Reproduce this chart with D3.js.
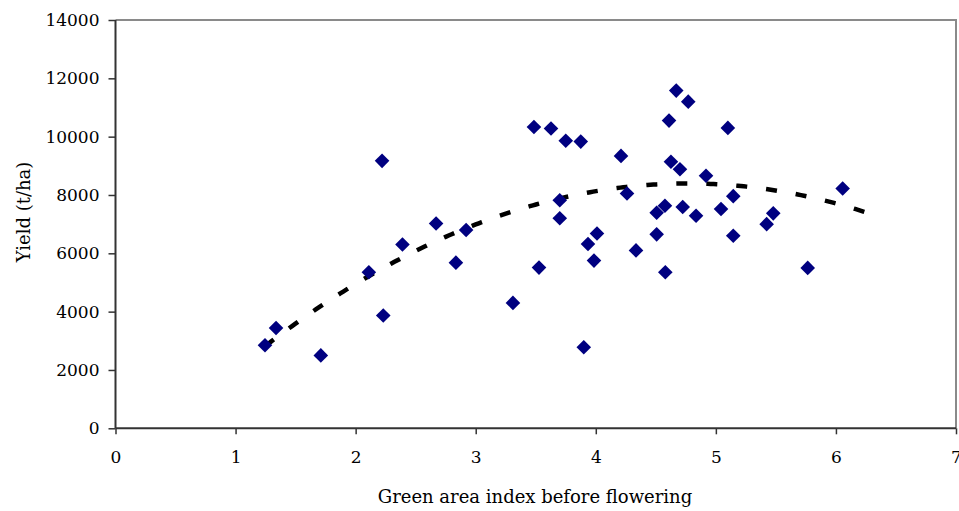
<!DOCTYPE html>
<html>
<head>
<meta charset="utf-8">
<script src="https://cdn.jsdelivr.net/npm/d3@7"></script>
<style>
  html, body { margin: 0; padding: 0; background: #fff; }
  svg { display: block; }
  text { font-family: "DejaVu Serif", serif; fill: #000; }
</style>
</head>
<body>
<svg id="chart" width="959" height="511"></svg>
<script>
// Green area index before flowering (x) vs grain yield (y)
const greenAreaIndex = [
  1.245, 1.337, 1.71, 2.11, 2.22, 2.23, 2.39, 2.67, 2.835, 2.92,
  3.31, 3.485, 3.527, 3.627, 3.70, 3.70, 3.75, 3.875, 3.90, 3.935,
  3.985, 4.01, 4.21, 4.26, 4.335, 4.507, 4.576, 4.507, 4.579, 4.61,
  4.626, 4.67, 4.701, 4.724, 4.77, 4.835, 4.918, 5.043, 5.10, 5.145,
  5.145, 5.423, 5.478, 5.765, 6.056
];
const yieldValues = [
  2850, 3440, 2500, 5350, 9170, 3870, 6300, 7020, 5680, 6800,
  4300, 10330, 5510, 10280, 7820, 7200, 9860, 9830, 2780, 6320,
  5750, 6680, 9340, 8050, 6100, 7390, 7630, 6650, 5350, 10550,
  9140, 11580, 8880, 7590, 11200, 7290, 8660, 7520, 10300, 7960,
  6600, 7000, 7370, 5500, 8220
];
const xTicks = [0, 1, 2, 3, 4, 5, 6, 7];
const yTicks = [0, 2000, 4000, 6000, 8000, 10000, 12000, 14000];
// Polynomial (order 2) trend: y = a x^2 + b x + c, forecast forward to 6.26
const trendCoefficients = { a: -450, b: 4290, c: -1830 };
const trendForwardTo = 6.26;

const xLabel = "Green area index before flowering";
const yLabel = "Yield (t/ha)";

const svg = d3.select("#chart");
const margin = { left: 115.5, right: 3, top: 20, bottom: 82.7 };
const W = 959, H = 511;

const x = d3.scaleLinear().domain([0, 7]).range([margin.left, W - margin.right]);
const y = d3.scaleLinear().domain([0, 14000]).range([H - margin.bottom, margin.top]);

const points = greenAreaIndex.map((v, i) => ({ x: v, y: yieldValues[i] }));
const trend = v => trendCoefficients.a * v * v + trendCoefficients.b * v + trendCoefficients.c;

// Plot frame: grey top and right borders
const x0 = x(0), x1 = x(7), y0 = y(0), y1 = y(14000);
svg.append("path")
  .attr("d", `M${x0},${y1}H${x1}V${y0}`)
  .attr("fill", "none")
  .attr("stroke", "#8a8a8a")
  .attr("stroke-width", 2);

// Trend line
const tMin = d3.min(greenAreaIndex);
const trendPts = d3.range(0, 201).map(i => {
  const v = tMin + (trendForwardTo - tMin) * i / 200;
  return [v, trend(v)];
});
svg.append("path")
  .datum(trendPts)
  .attr("d", d3.line().x(d => x(d[0])).y(d => y(d[1])))
  .attr("fill", "none")
  .attr("stroke", "#000")
  .attr("stroke-width", 4.5)
  .attr("stroke-dasharray", "11,19");

// Axes
const xAxis = svg.append("g")
  .attr("transform", `translate(0,${y0})`)
  .call(d3.axisBottom(x).tickValues(xTicks).tickFormat(d3.format("d")).tickSize(6).tickPadding(17));
const yAxis = svg.append("g")
  .attr("transform", `translate(${x0},0)`)
  .call(d3.axisLeft(y).tickValues(yTicks).tickFormat(d3.format("d")).tickSize(7).tickPadding(9));

[xAxis, yAxis].forEach(g => {
  g.select(".domain").attr("stroke", "#333").attr("stroke-width", 2);
  g.selectAll(".tick line").attr("stroke", "#333").attr("stroke-width", 1.5);
  g.selectAll(".tick text")
    .style("font-family", "'DejaVu Serif', serif")
    .style("font-size", "17px")
    .attr("fill", "#000");
});
xAxis.select(".domain").attr("d", `M${x0},0H${x1}`);
yAxis.select(".domain").attr("d", `M0,${y0}V${y1}`);

// Markers: navy diamonds
const r = 7.3;
svg.append("g").selectAll("path")
  .data(points)
  .join("path")
  .attr("d", `M0,${-r}L${r},0L0,${r}L${-r},0Z`)
  .attr("transform", d => `translate(${x(d.x)},${y(d.y)})`)
  .attr("fill", "#000080");

// Axis titles
svg.append("text")
  .attr("x", 535)
  .attr("y", 503)
  .attr("text-anchor", "middle")
  .style("font-size", "18px")
  .text(xLabel);

svg.append("text")
  .attr("transform", `translate(30,212) rotate(-90)`)
  .attr("text-anchor", "middle")
  .style("font-size", "18px")
  .text(yLabel);
</script>
</body>
</html>
